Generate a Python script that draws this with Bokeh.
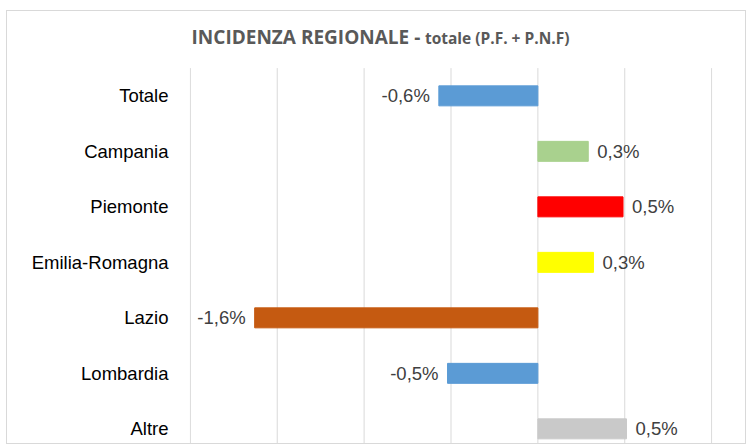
from bokeh.plotting import figure
from bokeh.models import ColumnDataSource, Range1d, FixedTicker
from bokeh.core.properties import value
from bokeh.embed import file_html
from bokeh.resources import INLINE

categories = ["Totale", "Campania", "Piemonte", "Emilia-Romagna", "Lazio", "Lombardia", "Altre"]
values = [-0.57, 0.29, 0.49, 0.32, -1.63, -0.52, 0.51]
colors = ["#5B9BD5", "#A9D18E", "#FF0000", "#FFFF00", "#C55A11", "#5B9BD5", "#C9C9C9"]
grid_ticks = [-2.0, -1.5, -1.0, -0.5, 0.0, 0.5, 1.0]
title_main = "INCIDENZA REGIONALE -"
title_sub = "totale (P.F. + P.N.F)"

ypos = list(range(len(categories)))
labels = [f"{v:.1f}".replace(".", ",") + "%" for v in values]
src = ColumnDataSource(dict(
    y=ypos, v=values, color=colors, label=labels,
    off=[9 if v >= 0 else -9 for v in values],
    align=["left" if v >= 0 else "right" for v in values],
))

# plot area: categories occupy -0.5 .. 6.3 (bottom cut), title band above
y_top_cat = -0.5
y_bottom = 6.3
y_title = -1.06
p = figure(width=740, height=434, output_backend="svg", toolbar_location=None,
           x_range=Range1d(-2.005, 1.005), y_range=Range1d(y_bottom, -1.52),
           min_border_left=182, min_border_right=35, min_border_top=0, min_border_bottom=0)
p.outline_line_color = None
p.background_fill_color = "white"
p.border_fill_color = "white"
p.styles = {"border": "1px solid #d9d9d9", "margin-left": "6px", "margin-top": "10px"}

p.xaxis.visible = False
p.xgrid.visible = False
p.ygrid.visible = False

# vertical gridlines, only within the category area
p.segment(x0=grid_ticks, y0=[y_top_cat] * len(grid_ticks), x1=grid_ticks,
          y1=[y_bottom] * len(grid_ticks), line_color="#d9d9d9", line_width=1)

yax = p.yaxis[0]
yax.ticker = FixedTicker(ticks=ypos)
yax.major_label_overrides = {i: c for i, c in zip(ypos, categories)}
yax.axis_line_color = None
yax.major_tick_line_color = None
yax.minor_tick_line_color = None
yax.major_tick_out = 0
yax.major_label_standoff = 21
yax.major_label_text_font = "Liberation Sans"
yax.major_label_text_font_size = "18.5px"
yax.major_label_text_color = "#000000"

p.hbar(y="y", left=0, right="v", height=0.36, color="color", source=src)
p.text(x="v", y="y", text="label", x_offset="off", text_align="align",
       text_baseline="middle", text_font=value("Liberation Sans"),
       text_font_size="18.5px", text_color="#404040", source=src)

p.text(x=[-0.677], y=[y_title], text=[title_main], text_align="right", text_baseline="middle",
       text_font=value("Open Sans"), text_font_style="bold", text_font_size="19px",
       text_color="#595959")
p.text(x=[-0.650], y=[y_title], text=[title_sub], text_align="left", text_baseline="middle",
       y_offset=1, text_font=value("Open Sans"), text_font_style="bold", text_font_size="15.5px",
       text_color="#595959")

open("out.html", "w").write(file_html(p, INLINE))
